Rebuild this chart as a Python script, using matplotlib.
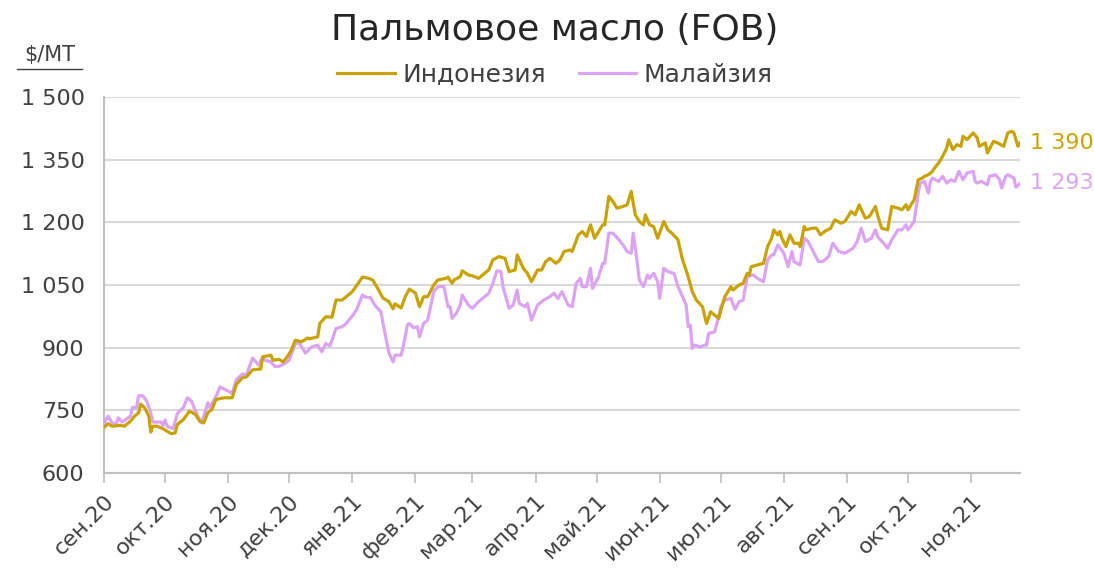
import matplotlib
matplotlib.use("Agg")
import matplotlib.pyplot as plt
from matplotlib.lines import Line2D
import pandas as pd

start_date = "2020-09-01"

# Indonesia: days since start_date, price $/MT
indo_days = [0, 2, 4, 8, 10, 13, 15, 17, 18, 20, 22, 23, 24, 26, 29, 31, 33, 35, 36, 39,
             42, 45, 47, 49, 51, 53, 55, 59, 63, 65, 68, 70, 73, 77, 78, 82, 83, 86, 88, 90,
             92, 94, 97, 100, 101, 105, 106, 109, 112, 114, 117, 119, 122, 124, 127, 130, 132, 134, 137, 140,
             142, 143, 146, 148, 150, 153, 154, 155, 157, 159, 162, 164, 168, 169, 171, 172, 175, 176, 179, 181,
             184, 186, 189, 191, 194, 197, 199, 202, 203, 206, 208, 210, 213, 215, 217, 219, 222, 224, 226, 229,
             230, 233, 235, 237, 239, 241, 245, 246, 248, 250, 252, 255, 257, 259, 261, 263, 265, 266, 268, 270,
             272, 275, 277, 279, 282, 284, 287, 289, 291, 294, 296, 298, 300, 302, 304, 305, 308, 309, 312, 314,
             316, 317, 318, 321, 324, 326, 328, 329, 331, 332, 333, 335, 337, 339, 341, 342, 344, 345, 348, 350,
             352, 354, 357, 359, 362, 364, 367, 369, 371, 374, 376, 379, 380, 382, 385, 387, 390, 392, 394, 395,
             398, 400, 402, 403, 405, 407, 408, 410, 412, 414, 415, 417, 419, 421, 422, 424, 427, 429, 430, 433,
             434, 437, 439, 442, 444, 446, 447, 449, 450]
indo_vals = [709, 718, 712, 714, 712, 724, 736, 744, 765, 756, 736, 698, 712, 712, 706, 700, 694, 696, 716, 728,
             748, 740, 724, 720, 744, 752, 776, 780, 780, 812, 828, 830, 847, 849, 878, 882, 870, 872, 866, 878,
             894, 918, 914, 923, 921, 926, 958, 974, 973, 1014, 1014, 1022, 1034, 1048, 1069, 1066, 1062, 1046, 1019, 1010,
             993, 1005, 995, 1022, 1040, 1031, 1014, 998, 1022, 1022, 1050, 1062, 1066, 1069, 1054, 1062, 1070, 1084, 1074, 1072,
             1066, 1074, 1086, 1110, 1118, 1114, 1082, 1086, 1122, 1090, 1078, 1058, 1086, 1086, 1106, 1114, 1102, 1110, 1130, 1134,
             1130, 1170, 1178, 1166, 1194, 1162, 1194, 1194, 1262, 1250, 1234, 1238, 1242, 1274, 1218, 1202, 1194, 1218, 1194, 1190,
             1162, 1202, 1182, 1174, 1158, 1114, 1070, 1034, 1014, 998, 958, 986, 978, 970, 1006, 1022, 1046, 1038, 1050, 1054,
             1078, 1074, 1094, 1098, 1102, 1142, 1162, 1182, 1170, 1178, 1162, 1142, 1170, 1150, 1150, 1142, 1190, 1182, 1186, 1186,
             1170, 1178, 1186, 1206, 1198, 1202, 1226, 1218, 1242, 1210, 1214, 1238, 1218, 1186, 1182, 1238, 1234, 1230, 1242, 1230,
             1254, 1302, 1306, 1310, 1314, 1322, 1330, 1342, 1358, 1378, 1398, 1374, 1386, 1382, 1406, 1398, 1414, 1402, 1382, 1390,
             1366, 1394, 1390, 1382, 1414, 1418, 1414, 1382, 1390]

# Malaysia: days since start_date, price $/MT
mal_days = [0, 2, 4, 6, 7, 9, 13, 14, 16, 17, 19, 21, 23, 24, 28, 29, 30, 31, 34, 36,
            39, 41, 43, 46, 48, 51, 52, 55, 57, 59, 63, 65, 68, 70, 73, 76, 78, 79, 82, 84,
            86, 89, 91, 94, 96, 99, 102, 105, 107, 109, 111, 114, 117, 119, 122, 124, 127, 128, 131, 133,
            136, 138, 140, 142, 143, 146, 148, 149, 150, 152, 154, 155, 157, 159, 162, 164, 167, 169, 170, 171,
            173, 175, 176, 179, 181, 184, 186, 189, 191, 193, 195, 196, 199, 201, 203, 204, 207, 208, 210, 213,
            216, 219, 221, 223, 225, 228, 230, 232, 234, 235, 237, 239, 240, 243, 245, 246, 248, 250, 253, 255,
            257, 259, 260, 262, 263, 265, 267, 268, 270, 272, 273, 275, 277, 280, 282, 286, 287, 288, 289, 290,
            293, 295, 296, 297, 300, 302, 303, 305, 308, 310, 312, 314, 316, 319, 321, 324, 326, 328, 329, 331,
            334, 336, 338, 339, 342, 344, 346, 348, 351, 353, 356, 358, 361, 364, 368, 370, 372, 374, 377, 379,
            380, 383, 385, 387, 390, 392, 394, 395, 398, 400, 401, 403, 405, 406, 407, 410, 412, 414, 416, 418,
            420, 422, 424, 427, 428, 429, 431, 434, 435, 438, 440, 441, 443, 444, 447, 448, 450]
mal_vals = [718, 736, 720, 718, 732, 722, 736, 757, 757, 785, 785, 772, 744, 722, 722, 714, 727, 712, 706, 742,
            757, 780, 772, 736, 720, 768, 757, 783, 806, 801, 791, 823, 837, 835, 875, 858, 878, 870, 866, 855,
            855, 863, 870, 910, 910, 887, 902, 906, 890, 910, 904, 946, 950, 958, 976, 990, 1026, 1022, 1019, 1002,
            986, 935, 887, 866, 882, 882, 926, 954, 958, 948, 950, 926, 958, 966, 1034, 1046, 1046, 998, 998, 970,
            982, 1002, 1026, 1002, 994, 1010, 1018, 1030, 1054, 1084, 1082, 1046, 994, 1002, 1038, 1006, 998, 1006, 966, 1002,
            1014, 1022, 1030, 1018, 1034, 1002, 998, 1054, 1066, 1046, 1046, 1090, 1042, 1070, 1102, 1102, 1174, 1174, 1158, 1146,
            1130, 1126, 1174, 1102, 1062, 1046, 1074, 1066, 1078, 1058, 1018, 1090, 1082, 1078, 1046, 1002, 950, 954, 898, 906,
            902, 906, 906, 934, 938, 975, 998, 1014, 1018, 992, 1010, 1014, 1070, 1074, 1066, 1058, 1110, 1122, 1122, 1146,
            1126, 1094, 1130, 1106, 1098, 1162, 1154, 1134, 1106, 1106, 1118, 1150, 1130, 1126, 1138, 1154, 1186, 1154, 1162, 1182,
            1166, 1150, 1138, 1158, 1182, 1182, 1194, 1182, 1202, 1270, 1294, 1298, 1270, 1298, 1306, 1298, 1310, 1294, 1302, 1298,
            1322, 1302, 1318, 1322, 1298, 1294, 1298, 1290, 1310, 1314, 1302, 1282, 1310, 1314, 1306, 1284, 1293]

series_names = ["Индонезия", "Малайзия"]
month_labels = ["сен.20", "окт.20", "ноя.20", "дек.20", "янв.21", "фев.21", "мар.21", "апр.21",
                "май.21", "июн.21", "июл.21", "авг.21", "сен.21", "окт.21", "ноя.21"]
y_ticks = [600, 750, 900, 1050, 1200, 1350, 1500]

GOLD = "#C9A206"
PURPLE = "#DDA3F3"
TXT = "#404040"

plt.rcParams['font.family'] = ['DejaVu Sans']

t0 = pd.Timestamp(start_date)
indo_dates = t0 + pd.to_timedelta(indo_days, unit="D")
mal_dates = t0 + pd.to_timedelta(mal_days, unit="D")

fig = plt.figure(figsize=(10.94, 5.70), dpi=100)
ax = fig.add_axes([104/1094, 1 - 473/570, (1020-104)/1094, (473-97)/570])

ax.plot(mal_dates, mal_vals, color=PURPLE, lw=2.3, solid_joinstyle="round", zorder=3)
ax.plot(indo_dates, indo_vals, color=GOLD, lw=2.3, solid_joinstyle="round", zorder=4)

ax.set_ylim(600, 1500)
ax.set_yticks(y_ticks)
ax.set_yticklabels([f"{v:,}".replace(",", " ") for v in y_ticks], fontsize=16, color=TXT)
ax.grid(axis="y", color="#D9D9D9", lw=1.5)
ax.set_axisbelow(True)

month_ticks = pd.date_range(t0, periods=len(month_labels), freq="MS")
ax.set_xlim(t0, t0 + pd.Timedelta(days=450))
ax.set_xticks(month_ticks)
ax.set_xticklabels(month_labels, rotation=45, ha="right", rotation_mode="anchor",
                   fontsize=16, color=TXT)
ax.tick_params(axis="x", length=7, width=1.2, color="#BFBFBF", pad=6)
ax.tick_params(axis="y", length=0, pad=14)

for s in ["top", "right"]:
    ax.spines[s].set_visible(False)
for s in ["left", "bottom"]:
    ax.spines[s].set_color("#BFBFBF")
    ax.spines[s].set_linewidth(1.5)

# end labels
ax.annotate(f"{indo_vals[-1]:,}".replace(",", " "), xy=(indo_dates[-1], indo_vals[-1]),
            xytext=(7, 0), textcoords="offset points", va="center", ha="left",
            color=GOLD, fontsize=16, annotation_clip=False)
ax.annotate(f"{mal_vals[-1]:,}".replace(",", " "), xy=(mal_dates[-1], mal_vals[-1]),
            xytext=(7, 0), textcoords="offset points", va="center", ha="left",
            color=PURPLE, fontsize=16, annotation_clip=False)

fig.text(555/1094, 1 - 30/570, "Пальмовое масло (FOB)", ha="center", va="center",
         fontsize=26, color="#262626")

handles = [Line2D([], [], color=GOLD, lw=2.3), Line2D([], [], color=PURPLE, lw=2.3)]
fig.legend(handles, series_names, loc="center", bbox_to_anchor=(555/1094, 1 - 75/570),
           ncol=2, frameon=False, fontsize=18, handlelength=2.3, handletextpad=0.3,
           columnspacing=1.3, labelcolor=TXT)

fig.text(50/1094, 1 - 55/570, "$/MT", ha="center", va="center", fontsize=15, color=TXT)
fig.add_artist(Line2D([17/1094, 82/1094], [1 - 69/570, 1 - 69/570], color=TXT, lw=1.0))

fig.savefig("out.png", dpi=100)
